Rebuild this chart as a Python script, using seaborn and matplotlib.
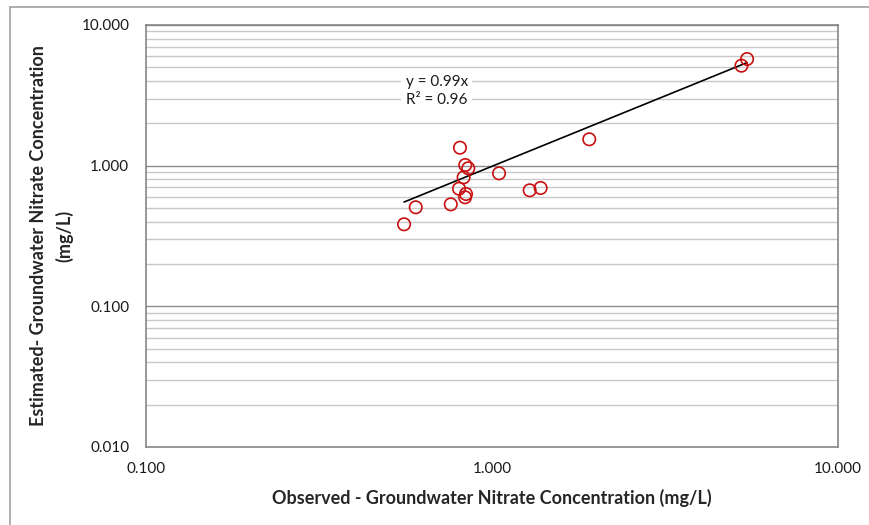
import matplotlib
matplotlib.use("Agg")
import matplotlib.pyplot as plt
import matplotlib.ticker as mticker
from matplotlib.lines import Line2D
import numpy as np
import pandas as pd
import seaborn as sns

# Observed vs. estimated groundwater nitrate (mg/L)
observed = [0.557, 0.602, 0.760, 0.808, 0.837, 0.854, 0.828, 0.803,
            0.841, 0.836, 1.048, 1.285, 1.382, 1.910, 5.26, 5.46]
estimated = [0.383, 0.506, 0.531, 1.342, 1.010, 0.958, 0.826, 0.686,
             0.629, 0.596, 0.882, 0.668, 0.694, 1.540, 5.14, 5.73]
slope = 0.99
r_squared = 0.96

x_ticks = [0.1, 1, 10]
y_ticks = [0.01, 0.1, 1, 10]

df = pd.DataFrame({"observed": observed, "estimated": estimated})

sns.set_theme(style="white")
plt.rcParams["font.family"] = ["Lato", "DejaVu Sans"]

fig = plt.figure(figsize=(8.69, 5.25), dpi=100)
ax = fig.add_axes([146 / 869, 78 / 525, 692 / 869, 422 / 525])

ax.set_xscale("log")
ax.set_yscale("log")
ax.set_xlim(0.1, 10)
ax.set_ylim(0.01, 10)

# horizontal gridlines only
ax.yaxis.set_major_locator(mticker.FixedLocator(y_ticks))
ax.yaxis.set_minor_locator(mticker.LogLocator(base=10, subs=np.arange(2, 10)))
ax.xaxis.set_major_locator(mticker.FixedLocator(x_ticks))
ax.xaxis.set_minor_locator(mticker.LogLocator(base=10, subs=np.arange(2, 10)))
ax.grid(which="major", axis="y", color="#8c8c8c", linewidth=1.0)
ax.grid(which="minor", axis="y", color="#c8c8c8", linewidth=1.0)
ax.grid(which="both", axis="x", visible=False)
ax.set_axisbelow(True)

fmt = mticker.FuncFormatter(lambda v, p: f"{v:.3f}")
ax.xaxis.set_major_formatter(fmt)
ax.yaxis.set_major_formatter(fmt)
ax.xaxis.set_minor_formatter(mticker.NullFormatter())
ax.yaxis.set_minor_formatter(mticker.NullFormatter())

ax.tick_params(axis="both", which="major", direction="out", length=5,
               width=1, color="#868686", labelsize=11, labelcolor="#1a1a1a")
ax.tick_params(axis="both", which="minor", direction="in", length=4,
               width=1, color="#868686")
ax.tick_params(axis="x", which="major", pad=6)
ax.tick_params(axis="y", which="major", pad=7)

for side in ["left", "right", "top", "bottom"]:
    ax.spines[side].set_visible(True)
    ax.spines[side].set_color("#868686")
    ax.spines[side].set_linewidth(1.2)

# linear trendline through the origin
x_fit = np.array([min(observed), max(observed)])
fit_df = pd.DataFrame({"observed": x_fit, "estimated": slope * x_fit})
sns.lineplot(data=fit_df, x="observed", y="estimated", ax=ax, color="black",
             linewidth=1.2, zorder=3)

sns.scatterplot(data=df, x="observed", y="estimated", ax=ax, marker="o",
                s=80, facecolors="none", edgecolor="#c81010", linewidth=1.2,
                zorder=4)

ax.text(0.692, 3.4, f"y = {slope:.2f}x\nR\u00b2 = {r_squared:.2f}",
        ha="center", va="center", fontsize=11, color="#1a1a1a",
        linespacing=1.3,
        bbox=dict(facecolor="white", edgecolor="none", pad=3), zorder=5)

ax.set_xlabel("Observed - Groundwater Nitrate Concentration (mg/L)",
              fontsize=13, fontweight="bold", labelpad=9)
ax.set_ylabel("Estimated- Groundwater Nitrate Concentration\n(mg/L)",
              fontsize=13, fontweight="bold", labelpad=6, linespacing=1.55)

# chart frame
fig.add_artist(Line2D([10 / 869, 1.0], [1 - 7 / 525, 1 - 7 / 525],
                      transform=fig.transFigure, color="#a0a0a0", linewidth=1.2))
fig.add_artist(Line2D([10 / 869, 10 / 869], [0.0, 1 - 7 / 525],
                      transform=fig.transFigure, color="#a0a0a0", linewidth=1.2))

fig.savefig("out.png", dpi=100)
